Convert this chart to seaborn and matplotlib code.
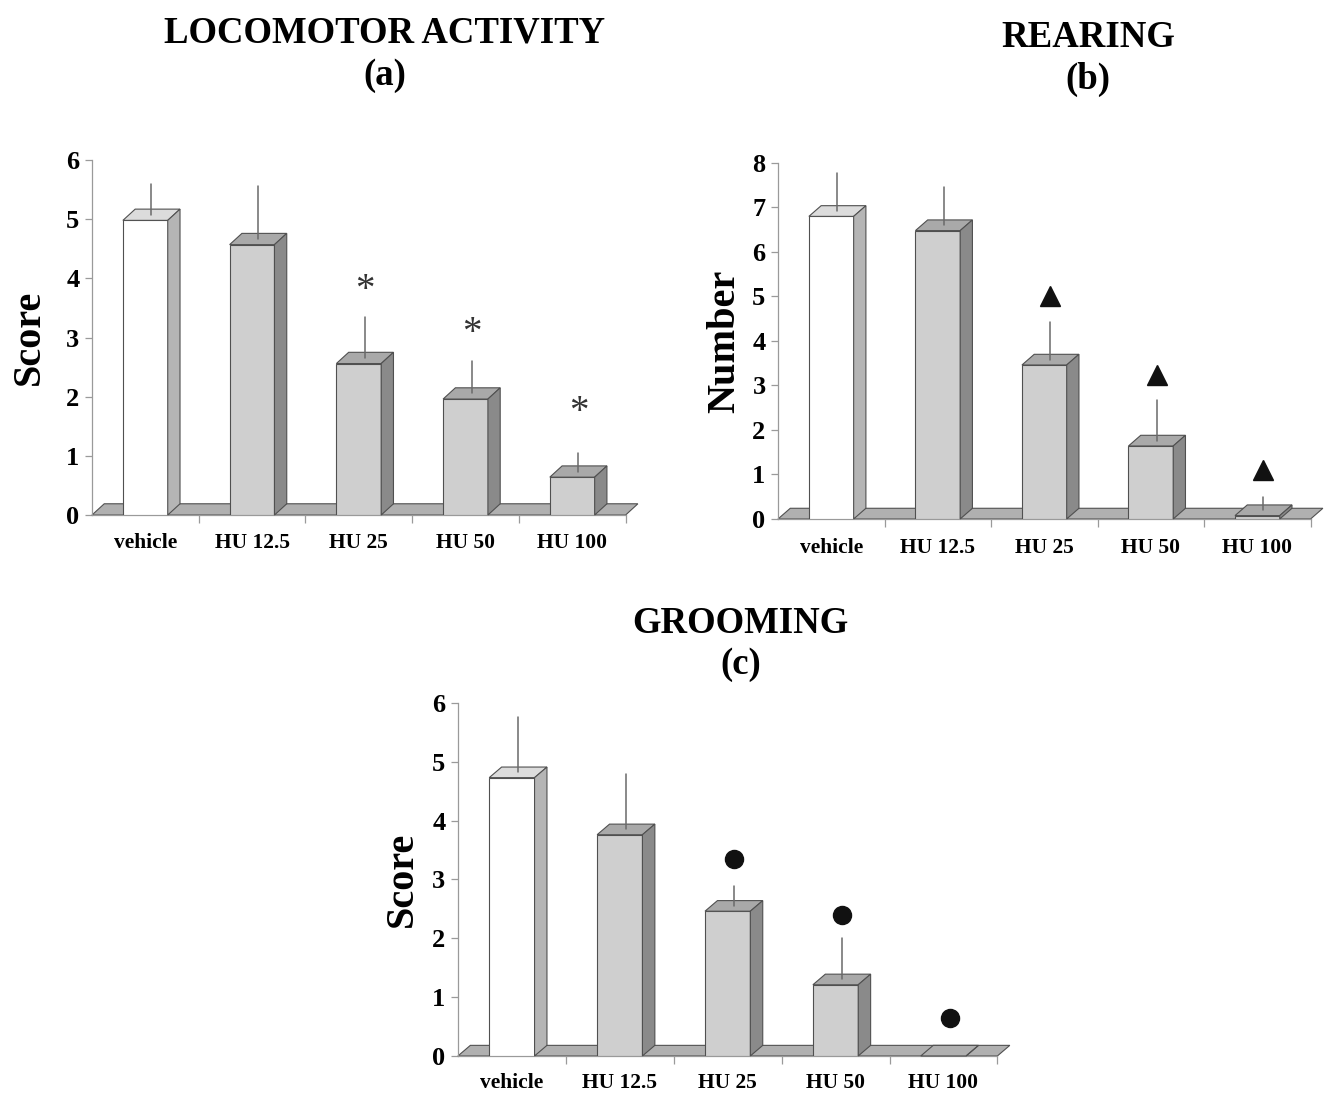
import numpy as np
import pandas as pd
import matplotlib
matplotlib.use("Agg")
import matplotlib.pyplot as plt
from matplotlib.patches import Polygon
import seaborn as sns

# ---------------- data ----------------
categories = ["vehicle", "HU 12.5", "HU 25", "HU 50", "HU 100"]

loco_mean = [4.98, 4.57, 2.56, 1.96, 0.64]
loco_err = [0.62, 0.99, 0.79, 0.65, 0.41]
loco_sig = [None, None, 3.79, 3.06, 1.74]

rear_mean = [6.80, 6.48, 3.46, 1.64, 0.075]
rear_err = [0.98, 0.97, 0.96, 1.03, 0.42]
rear_sig = [None, None, 5.0, 3.23, 1.09]

groom_mean = [4.73, 3.76, 2.46, 1.21, 0.0]
groom_err = [1.03, 1.03, 0.43, 0.79, 0.0]
groom_sig = [None, None, 3.35, 2.39, 0.65]

# ---------------- style ----------------
sns.set_theme(style="white")
plt.rcParams["font.family"] = ["Liberation Serif", "DejaVu Serif"]
plt.rcParams["font.weight"] = "bold"
plt.rcParams["text.color"] = "black"
plt.rcParams["axes.labelcolor"] = "black"

front_cols = ["#ffffff", "#cfcfcf", "#cfcfcf", "#cfcfcf", "#cfcfcf"]
top_cols = ["#dcdcdc", "#a9a9a9", "#a9a9a9", "#a9a9a9", "#a9a9a9"]
side_cols = ["#b5b5b5", "#8a8a8a", "#8a8a8a", "#8a8a8a", "#8a8a8a"]
floor_col = "#b0b0b0"
edge_col = "#505050"
axis_col = "#9a9a9a"

fig = plt.figure(figsize=(13.27, 10.93), dpi=100)


def panel(rect, means, errs, sigs, sig_kind, ymax, ylabel, dy, label_x, xpad):
    ax = fig.add_axes(rect)
    dx = 0.115
    df = pd.DataFrame({"group": categories, "value": means})
    sns.barplot(data=df, x="group", y="value", hue="group", palette=front_cols,
                legend=False, width=0.42, edgecolor=edge_col, linewidth=0.8,
                saturation=1, ax=ax, zorder=3)
    # floor
    ax.add_patch(Polygon([(-0.5, 0), (4.5, 0), (4.5 + dx, dy), (-0.5 + dx, dy)],
                         closed=True, fc=floor_col, ec=edge_col, lw=0.8,
                         zorder=1, clip_on=False))
    for i, p in enumerate(ax.patches[:len(categories)]):
        x0, w, h = p.get_x(), p.get_width(), p.get_height()
        top_fc = top_cols[i] if h > 0 else floor_col
        ax.add_patch(Polygon([(x0, h), (x0 + w, h), (x0 + w + dx, h + dy), (x0 + dx, h + dy)],
                             closed=True, fc=top_fc, ec=edge_col, lw=0.8,
                             zorder=4, clip_on=False))
        ax.add_patch(Polygon([(x0 + w, 0), (x0 + w + dx, dy), (x0 + w + dx, h + dy), (x0 + w, h)],
                             closed=True, fc=side_cols[i], ec=edge_col, lw=0.8,
                             zorder=4, clip_on=False))
        cx = x0 + w / 2 + dx / 2
        if errs[i] > 0:
            ax.plot([cx, cx], [h + dy / 2, means[i] + errs[i]], color="#6a6a6a",
                    lw=1.1, zorder=5, clip_on=False)
        if sigs[i] is not None:
            if sig_kind == "*":
                ax.text(cx, sigs[i], "*", ha="center", va="center", fontsize=28,
                        fontweight="normal", color="#333333", zorder=6)
            elif sig_kind == "^":
                ax.plot(cx, sigs[i], marker="^", ms=14, color="#111111", zorder=6,
                        clip_on=False)
            else:
                ax.plot(cx, sigs[i], marker="o", ms=13, color="#111111", zorder=6,
                        clip_on=False)

    ax.set_xlim(-0.5, 4.5 + dx + 0.02)
    ax.set_ylim(0, ymax)
    ax.set_yticks(range(0, ymax + 1))
    ax.set_xlabel("")
    ax.set_ylabel(ylabel, fontsize=29, fontweight="bold")
    ax.yaxis.label.set_verticalalignment("center")
    ax.yaxis.set_label_coords(label_x, 0.5)
    for s in ["top", "right"]:
        ax.spines[s].set_visible(False)
    ax.spines["left"].set_color(axis_col)
    ax.spines["left"].set_linewidth(0.9)
    ax.spines["bottom"].set_color(axis_col)
    ax.spines["bottom"].set_linewidth(0.9)
    ax.spines["bottom"].set_bounds(-0.5, 4.5)
    ax.set_xticks(np.arange(len(categories)))
    ax.set_xticklabels(categories, fontsize=15.5, fontweight="bold")
    ax.set_xticks(np.arange(len(categories)) + 0.5, minor=True)
    ax.tick_params(axis="x", which="major", length=0, pad=xpad, labelcolor="black")
    ax.tick_params(axis="x", which="minor", length=6, width=0.9, color=axis_col,
                   direction="out", bottom=True)
    ax.tick_params(axis="y", length=5, width=0.9, color=axis_col, direction="out",
                   left=True, labelsize=19, pad=4, labelcolor="black")
    for t in ax.get_yticklabels():
        t.set_fontweight("bold")
    return ax


panel([0.0693, 0.5288, 0.413, 0.3248], loco_mean, loco_err, loco_sig, "*", 6,
      "Score", 0.19, -0.115, 13)
panel([0.5863, 0.5252, 0.4122, 0.3257], rear_mean, rear_err, rear_sig, "^", 8,
      "Number", 0.24, -0.098, 14)
panel([0.3451, 0.0339, 0.4175, 0.3230], groom_mean, groom_err, groom_sig, "o", 6,
      "Score", 0.18, -0.10, 12)

title_kw = dict(ha="center", va="center", fontsize=26.5, fontweight="bold",
                color="black")
fig.text(0.290, 0.970, "LOCOMOTOR ACTIVITY", **title_kw)
fig.text(0.290, 0.931, "(a)", **title_kw)
fig.text(0.820, 0.966, "REARING", **title_kw)
fig.text(0.820, 0.927, "(b)", **title_kw)
fig.text(0.558, 0.430, "GROOMING", **title_kw)
fig.text(0.558, 0.392, "(c)", **title_kw)

fig.savefig("out.png", dpi=100, facecolor="white")
